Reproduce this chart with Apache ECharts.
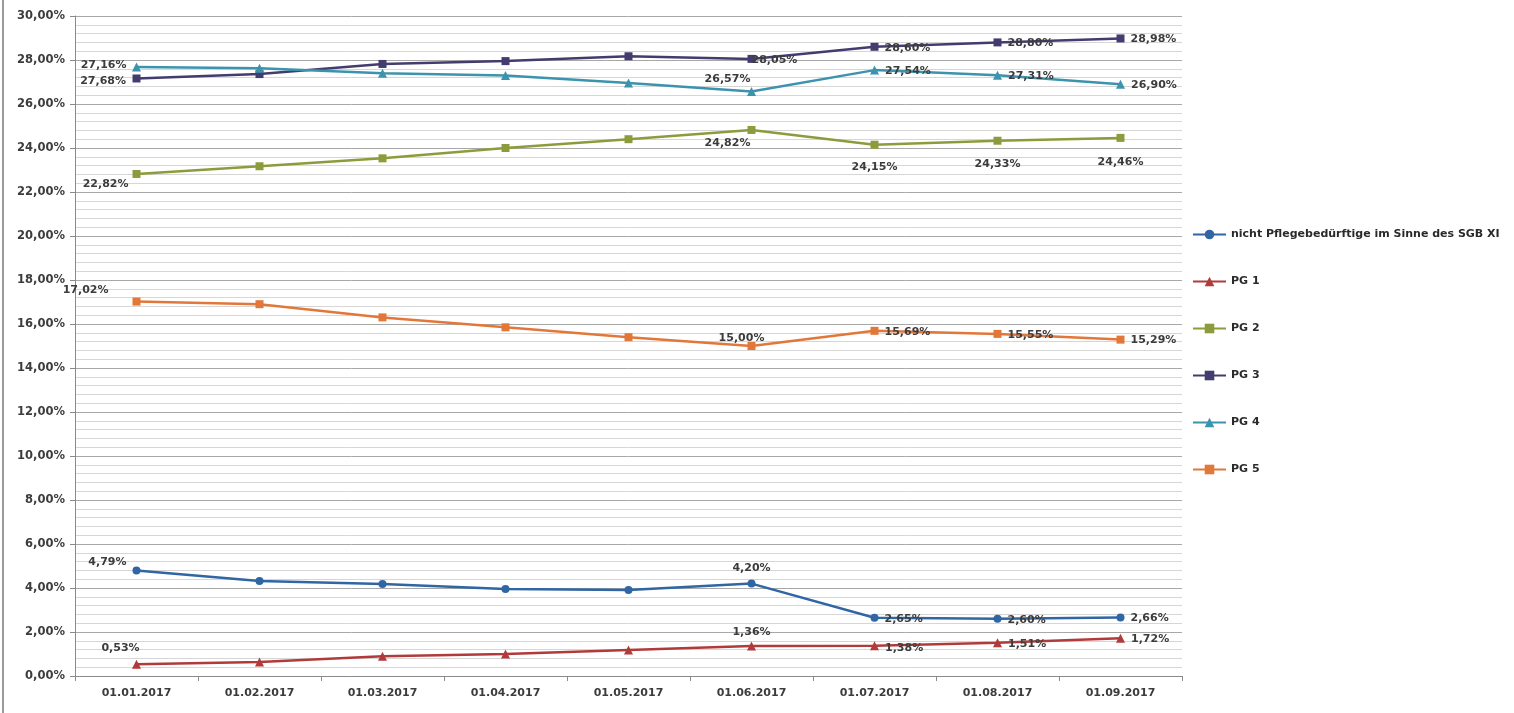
<!DOCTYPE html>
<html>
<head>
<meta charset="utf-8">
<script src="https://cdn.jsdelivr.net/npm/echarts@6/dist/echarts.min.js"></script>
<style>
html,body{margin:0;padding:0;background:#fff;}
#chart{width:1514px;height:713px;}
</style>
</head>
<body>
<div id="chart"></div>
<script>
const categories = ['01.01.2017','01.02.2017','01.03.2017','01.04.2017','01.05.2017','01.06.2017','01.07.2017','01.08.2017','01.09.2017'];
const seriesNames = ['nicht Pflegebedürftige im Sinne des SGB XI','PG 1','PG 2','PG 3','PG 4','PG 5'];
const nichtPfleg = [4.79, 4.32, 4.18, 3.95, 3.91, 4.20, 2.65, 2.60, 2.66];
const pg1 = [0.53, 0.64, 0.90, 1.00, 1.18, 1.36, 1.38, 1.51, 1.72];
const pg2 = [22.82, 23.17, 23.53, 24.00, 24.40, 24.82, 24.15, 24.33, 24.46];
const pg3 = [27.16, 27.36, 27.82, 27.95, 28.17, 28.05, 28.60, 28.80, 28.98];
const pg4 = [27.68, 27.63, 27.40, 27.30, 26.95, 26.57, 27.54, 27.31, 26.90];
const pg5 = [17.02, 16.90, 16.30, 15.85, 15.40, 15.00, 15.69, 15.55, 15.29];

// label placement per point (style, kept separate from data)
const R = {position:'right', offset:[0,1]};
const labelCfg = [
  [{position:'left',offset:[0,-8]},null,null,null,null,{position:'top',offset:[0,0]},R,R,R],
  [{position:'top',offset:[-16,0]},null,null,null,null,{position:'top',offset:[0,2]},{position:'right',offset:[0,3]},R,R],
  [{position:'left',offset:[2,10]},null,null,null,null,{position:'bottom',offset:[-24,-2]},{position:'bottom',offset:[0,7]},{position:'bottom',offset:[0,8]},{position:'bottom',offset:[0,9]}],
  [{position:'left',offset:[0,-13]},null,null,null,null,{position:'right',offset:[-10,1]},R,R,R],
  [{position:'left',offset:[0,14]},null,null,null,null,{position:'top',offset:[-24,4]},R,R,R],
  [{position:'left',offset:[-18,-11]},null,null,null,null,{position:'top',offset:[-10,8]},R,R,R]
];
const colors = ['#2f66a3','#b13b3b','#8c9c3c','#433c6e','#3c93ad','#e2773a'];
const symbols = ['circle','triangle','rect','rect','triangle','rect'];
const values = [nichtPfleg, pg1, pg2, pg3, pg4, pg5];

const fmt = v => v.toFixed(2).replace('.', ',') + '%';
const FONT = 'DejaVu Sans';
const TXT = '#3c3c3c';

const series = values.map((arr, si) => ({
  name: seriesNames[si],
  type: 'line',
  data: arr.map((v, i) => {
    const c = labelCfg[si][i];
    return c ? {value: v, label: {show: true, position: c.position, offset: c.offset}} : {value: v};
  }),
  symbol: symbols[si],
  symbolSize: symbols[si] === 'triangle' ? 9 : 8,
  lineStyle: {width: 2.5, color: colors[si]},
  itemStyle: {color: colors[si]},
  label: {
    show: false,
    formatter: p => fmt(p.value),
    fontFamily: FONT, fontWeight: 'bold', fontSize: 11, color: TXT, distance: 6
  },
  z: 3 + si
}));

const chart = echarts.init(document.getElementById('chart'));
chart.setOption({
  animation: false,
  backgroundColor: '#ffffff',
  textStyle: {fontFamily: FONT},
  grid: {show: false, left: 75, right: 332, top: 16, bottom: 37, containLabel: false},
  xAxis: {
    type: 'category',
    data: categories,
    boundaryGap: true,
    axisLine: {lineStyle: {color: '#8a8a8a', width: 1}},
    axisTick: {show: true, length: 5, lineStyle: {color: '#8a8a8a'}},
    axisLabel: {fontFamily: FONT, fontWeight: 'bold', fontSize: 11, color: TXT, margin: 12},
    splitLine: {show: false},
    minorSplitLine: {show: false}
  },
  yAxis: {
    type: 'value',
    min: 0, max: 30, interval: 2,
    axisLine: {show: true, lineStyle: {color: '#8a8a8a'}},
    axisTick: {show: true, length: 5, lineStyle: {color: '#8a8a8a'}},
    axisLabel: {fontFamily: FONT, fontWeight: 'bold', fontSize: 11.5, color: TXT, margin: 10, formatter: v => fmt(v)},
    splitLine: {show: true, lineStyle: {color: '#a8a8a8', width: 1}},
    minorTick: {show: false, splitNumber: 5},
    minorSplitLine: {show: true, lineStyle: {color: '#d6d6d6', width: 1}}
  },
  legend: {
    orient: 'vertical',
    left: 1187, top: 224,
    itemGap: 36,
    itemWidth: 33, itemHeight: 12,
    textStyle: {fontFamily: FONT, fontWeight: 'bold', fontSize: 11, color: '#2a2a2a'},
    data: seriesNames
  },
  graphic: [{
    type: 'line', shape: {x1: 3, y1: 0, x2: 3, y2: 713}, style: {stroke: '#9a9a9a', lineWidth: 2}
  }],
  series: series
});
</script>
</body>
</html>
